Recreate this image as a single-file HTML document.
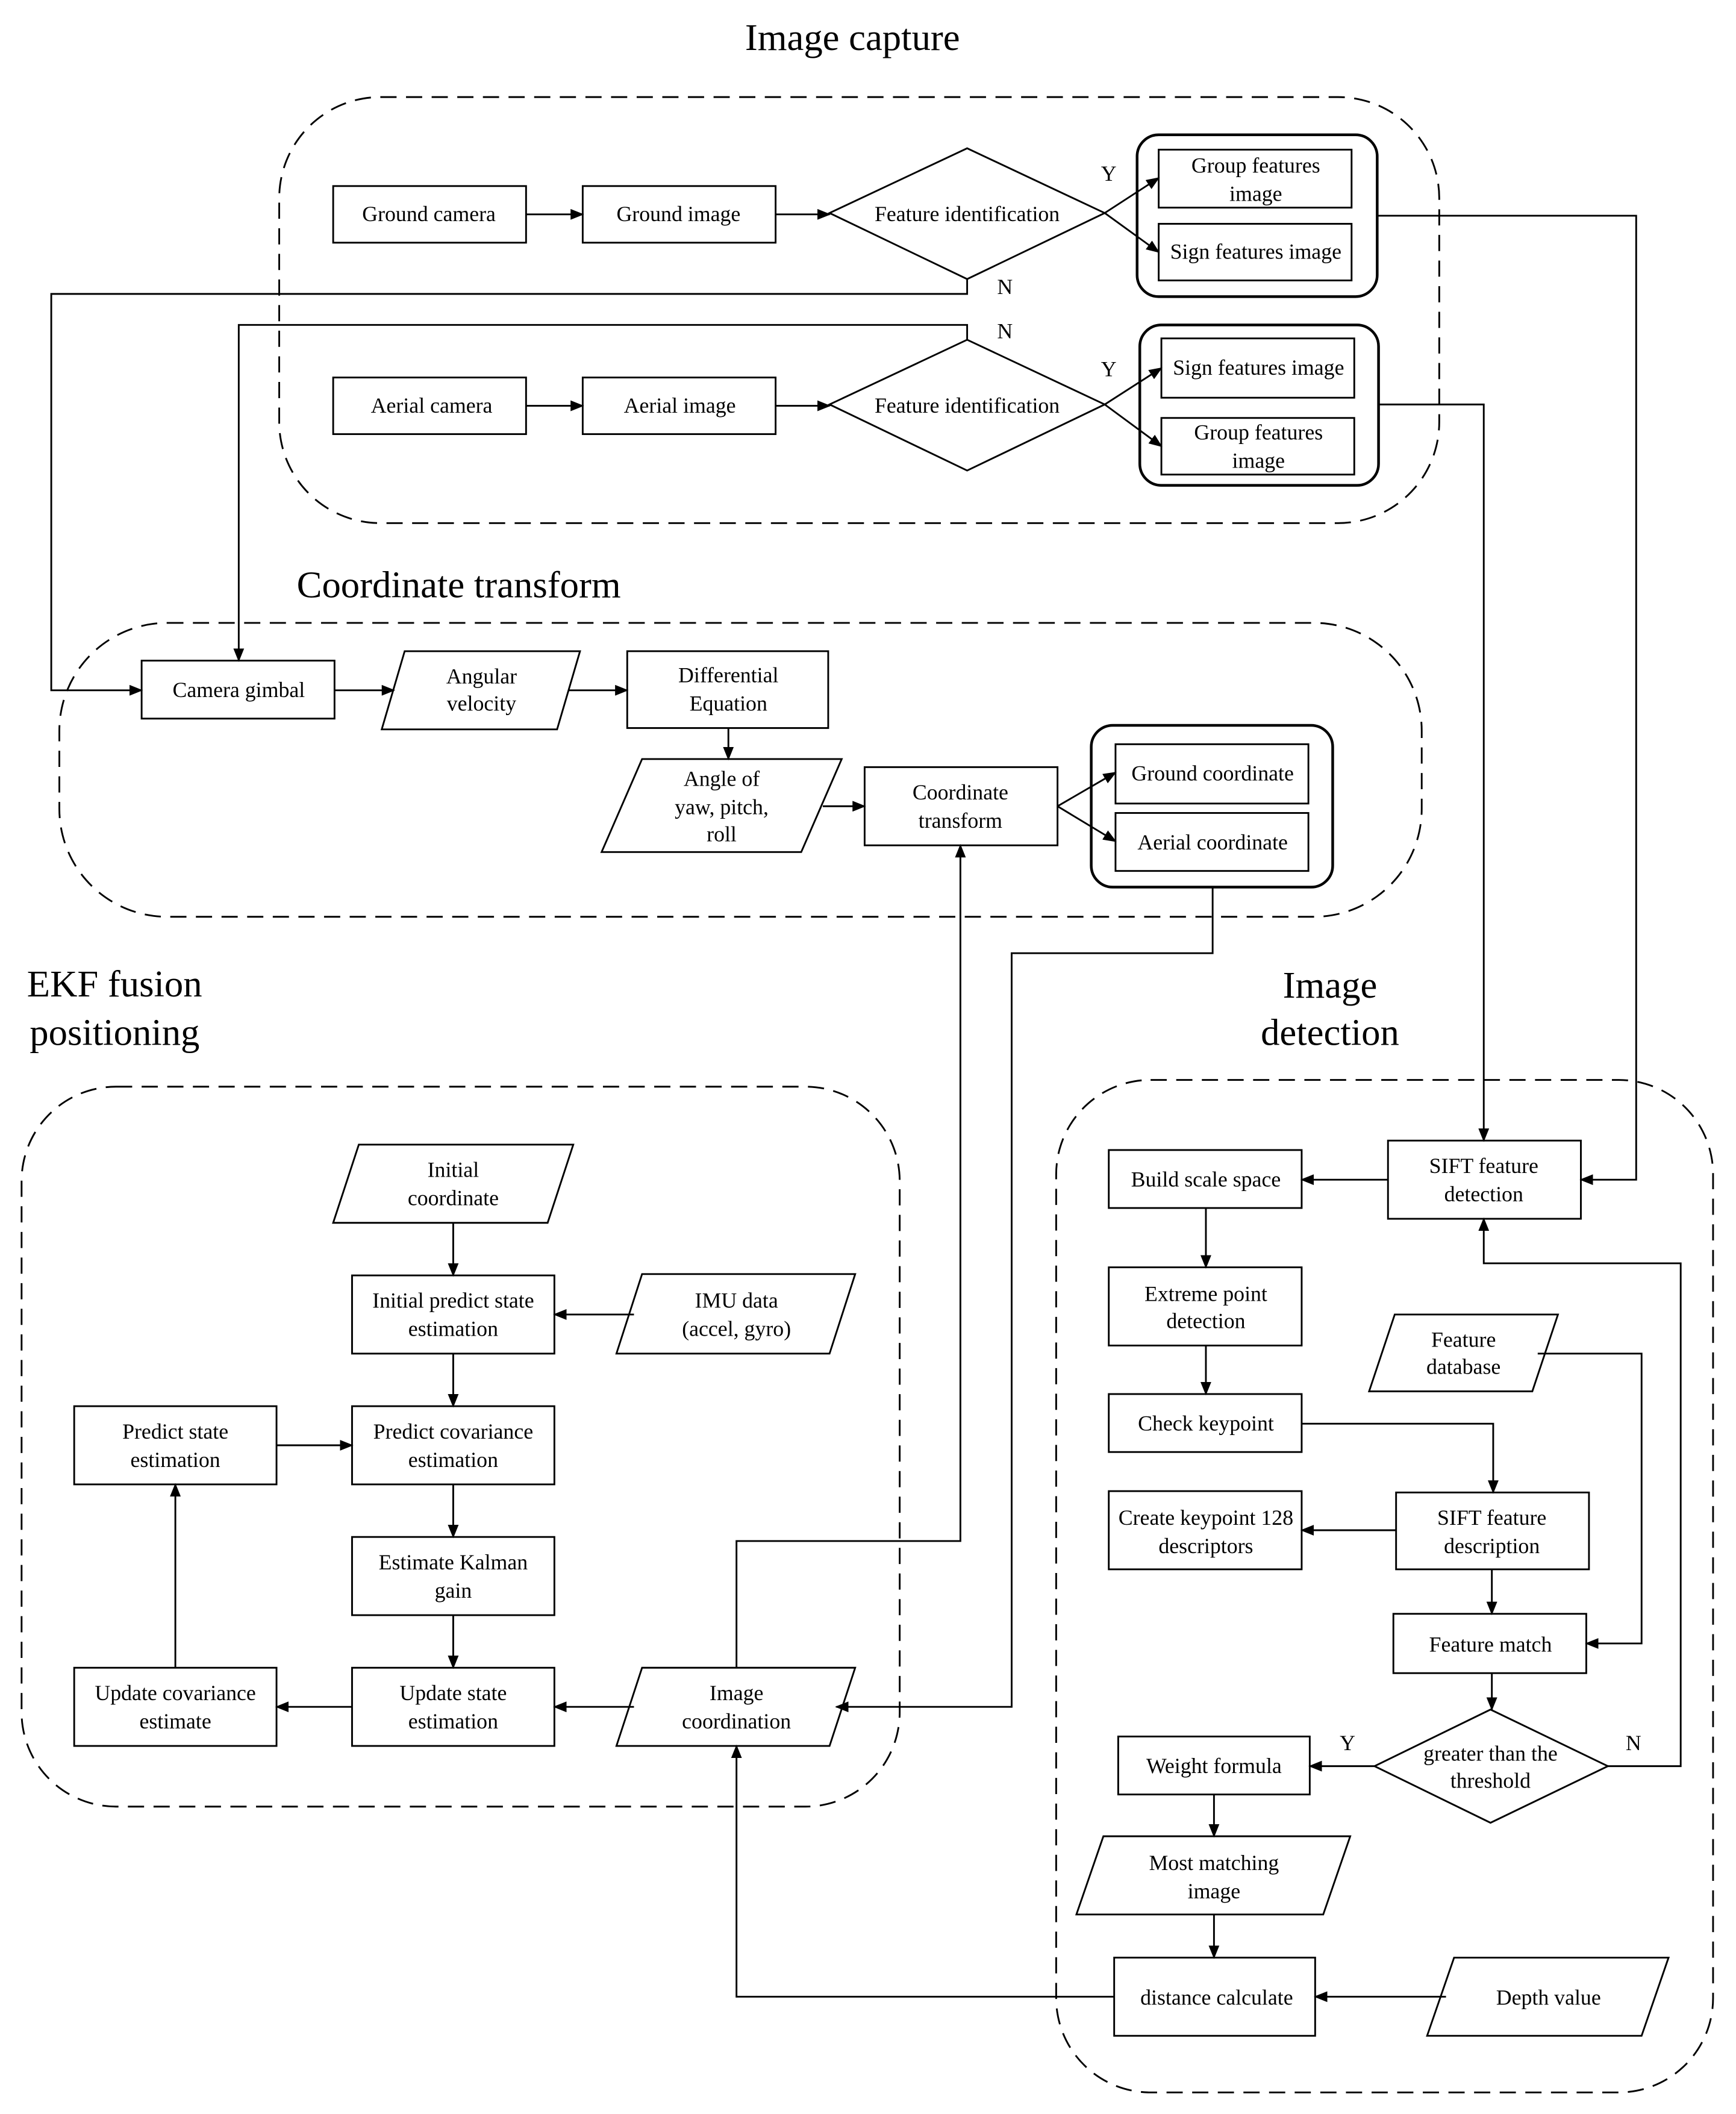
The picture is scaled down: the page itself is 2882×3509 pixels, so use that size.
<!DOCTYPE html>
<html><head><meta charset="utf-8"><style>
html,body{margin:0;padding:0;background:#fff}
svg{display:block}
text{font-family:"Liberation Serif",serif;font-size:16px;fill:#000}
.t{font-size:28px}
</style></head><body>
<svg width="2882" height="3509" viewBox="0 0 1287 1568" preserveAspectRatio="none" xmlns="http://www.w3.org/2000/svg">
<defs><marker id="a" markerWidth="10" markerHeight="8" refX="9" refY="4" orient="auto" markerUnits="userSpaceOnUse"><path d="M0,0 L10,4 L0,8 z" fill="#000"/></marker></defs>
<g fill="none" stroke="#000" stroke-width="1.3">
<g stroke-dasharray="12,7">
<rect x="207" y="72" width="860" height="316" rx="75"/>
<rect x="44" y="462" width="1010" height="218" rx="80"/>
<rect x="16" y="806" width="651" height="534" rx="70"/>
<rect x="783" y="801" width="487" height="751" rx="70"/>
</g>
<rect x="247" y="138" width="143" height="42"/>
<rect x="432" y="138" width="143" height="42"/>
<polygon points="615,158 717,110 819,158 717,207"/>
<rect x="843" y="100" width="178" height="120" rx="16" stroke-width="2"/>
<rect x="859" y="111" width="143" height="43"/>
<rect x="859" y="166" width="143" height="42"/>
<rect x="247" y="280" width="143" height="42"/>
<rect x="432" y="280" width="143" height="42"/>
<polygon points="615,300 717,252 819,300 717,349"/>
<rect x="845" y="241" width="177" height="119" rx="16" stroke-width="2"/>
<rect x="861" y="251" width="143" height="44"/>
<rect x="861" y="310" width="143" height="42"/>
<rect x="105" y="490" width="143" height="43"/>
<polygon points="283,541 300,483 430,483 413,541"/>
<rect x="465" y="483" width="149" height="57"/>
<polygon points="446,632 476,563 624,563 594,632"/>
<rect x="641" y="569" width="143" height="58"/>
<rect x="809" y="538" width="179" height="120" rx="16" stroke-width="2"/>
<rect x="827" y="552" width="143" height="44"/>
<rect x="827" y="603" width="143" height="43"/>
<polygon points="247,907 266,849 425,849 406,907"/>
<polygon points="457,1004 476,945 634,945 615,1004"/>
<rect x="261" y="946" width="150" height="58"/>
<rect x="261" y="1043" width="150" height="58"/>
<rect x="55" y="1043" width="150" height="58"/>
<rect x="261" y="1140" width="150" height="58"/>
<rect x="261" y="1237" width="150" height="58"/>
<rect x="55" y="1237" width="150" height="58"/>
<polygon points="457,1295 476,1237 634,1237 615,1295"/>
<rect x="1029" y="846" width="143" height="58"/>
<rect x="822" y="853" width="143" height="43"/>
<rect x="822" y="940" width="143" height="58"/>
<rect x="822" y="1034" width="143" height="43"/>
<rect x="1035" y="1107" width="143" height="57"/>
<rect x="822" y="1106" width="143" height="58"/>
<polygon points="1015,1032 1034,975 1155,975 1136,1032"/>
<rect x="1033" y="1197" width="143" height="44"/>
<polygon points="1019,1310 1105,1268 1192,1310 1105,1352"/>
<rect x="829" y="1288" width="142" height="43"/>
<polygon points="798,1420 818,1362 1001,1362 981,1420"/>
<rect x="826" y="1452" width="149" height="58"/>
<polygon points="1058,1510 1078,1452 1237,1452 1217,1510"/>
</g>
<g fill="none" stroke="#000" stroke-width="1.3" marker-end="url(#a)">
<path d="M390,159 H432"/><path d="M575,159 H615"/>
<path d="M819,158 L859,132"/><path d="M819,158 L859,187"/>
<path d="M390,301 H432"/><path d="M575,301 H615"/>
<path d="M819,300 L861,273"/><path d="M819,300 L861,331"/>
<path d="M1021,160 H1213 V875 H1172"/>
<path d="M1022,300 H1100 V846"/>
<path d="M717,207 V218 H38 V512 H105"/>
<path d="M717,252 V241 H177 V490"/>
<path d="M248,512 H292"/><path d="M422,512 H465"/>
<path d="M540,540 V563"/><path d="M610,598 H641"/>
<path d="M784,598 L827,573"/><path d="M784,598 L827,624"/>
<path d="M899,658 V707 H750 V1266 H620"/>
<path d="M336,907 V946"/><path d="M470,975 H411"/>
<path d="M336,1004 V1043"/><path d="M205,1072 H261"/>
<path d="M336,1101 V1140"/><path d="M336,1198 V1237"/>
<path d="M261,1266 H205"/><path d="M130,1237 V1101"/>
<path d="M470,1266 H411"/>
<path d="M546,1237 V1143 H712 V627"/>
<path d="M826,1481 H546 V1295"/>
<path d="M1029,875 H965"/><path d="M894,896 V940"/><path d="M894,998 V1034"/>
<path d="M965,1056 H1107 V1107"/>
<path d="M1035,1135 H965"/>
<path d="M1140,1004 H1217 V1219 H1176"/>
<path d="M1106,1164 V1197"/><path d="M1106,1241 V1268"/>
<path d="M1192,1310 H1246 V937 H1100 V904"/>
<path d="M1019,1310 H971"/>
<path d="M900,1331 V1362"/><path d="M900,1420 V1452"/>
<path d="M1072,1481 H975"/>
</g>
<g text-anchor="middle">
<text class="t" x="632" y="37">Image capture</text>
<text class="t" x="220" y="443" text-anchor="start">Coordinate transform</text>
<text class="t" x="20" y="739" text-anchor="start">EKF fusion</text>
<text class="t" x="22" y="775" text-anchor="start">positioning</text>
<text class="t" x="986" y="740">Image</text>
<text class="t" x="986" y="775">detection</text>
<text x="318" y="164">Ground  camera</text>
<text x="503" y="164">Ground image</text>
<text x="717" y="164">Feature identification</text>
<text x="931" y="128">Group features</text><text x="931" y="149">image</text>
<text x="931" y="192">Sign features image</text>
<text x="822" y="134">Y</text><text x="745" y="218">N</text>
<text x="745" y="251">N</text><text x="822" y="279">Y</text>
<text x="320" y="306">Aerial camera</text>
<text x="504" y="306">Aerial image</text>
<text x="717" y="306">Feature identification</text>
<text x="933" y="278">Sign features image</text>
<text x="933" y="326">Group features</text><text x="933" y="347">image</text>
<text x="177" y="517">Camera gimbal</text>
<text x="357" y="507">Angular</text><text x="357" y="527">velocity</text>
<text x="540" y="506">Differential</text><text x="540" y="527">Equation</text>
<text x="535" y="583">Angle of</text><text x="535" y="604">yaw, pitch,</text><text x="535" y="624">roll</text>
<text x="712" y="593">Coordinate</text><text x="712" y="614">transform</text>
<text x="899" y="579">Ground coordinate</text>
<text x="899" y="630">Aerial coordinate</text>
<text x="336" y="873">Initial</text><text x="336" y="894">coordinate</text>
<text x="336" y="970">Initial predict state</text><text x="336" y="991">estimation</text>
<text x="546" y="970">IMU data</text><text x="546" y="991">(accel, gyro)</text>
<text x="130" y="1067">Predict state</text><text x="130" y="1088">estimation</text>
<text x="336" y="1067">Predict covariance</text><text x="336" y="1088">estimation</text>
<text x="336" y="1164">Estimate Kalman</text><text x="336" y="1185">gain</text>
<text x="336" y="1261">Update state</text><text x="336" y="1282">estimation</text>
<text x="130" y="1261">Update covariance</text><text x="130" y="1282">estimate</text>
<text x="546" y="1261">Image</text><text x="546" y="1282">coordination</text>
<text x="1100" y="870">SIFT feature</text><text x="1100" y="891">detection</text>
<text x="894" y="880">Build scale space</text>
<text x="894" y="965">Extreme point</text><text x="894" y="985">detection</text>
<text x="894" y="1061">Check keypoint</text>
<text x="1085" y="999">Feature</text><text x="1085" y="1019">database</text>
<text x="1106" y="1131">SIFT feature</text><text x="1106" y="1152">description</text>
<text x="894" y="1131">Create keypoint 128</text><text x="894" y="1152">descriptors</text>
<text x="1105" y="1225">Feature match</text>
<text x="1105" y="1306">greater than the</text><text x="1105" y="1326">threshold</text>
<text x="999" y="1298">Y</text><text x="1211" y="1298">N</text>
<text x="900" y="1315">Weight formula</text>
<text x="900" y="1387">Most matching</text><text x="900" y="1408">image</text>
<text x="902" y="1487">distance calculate</text>
<text x="1148" y="1487">Depth value</text>
</g>
</svg>
</body></html>
